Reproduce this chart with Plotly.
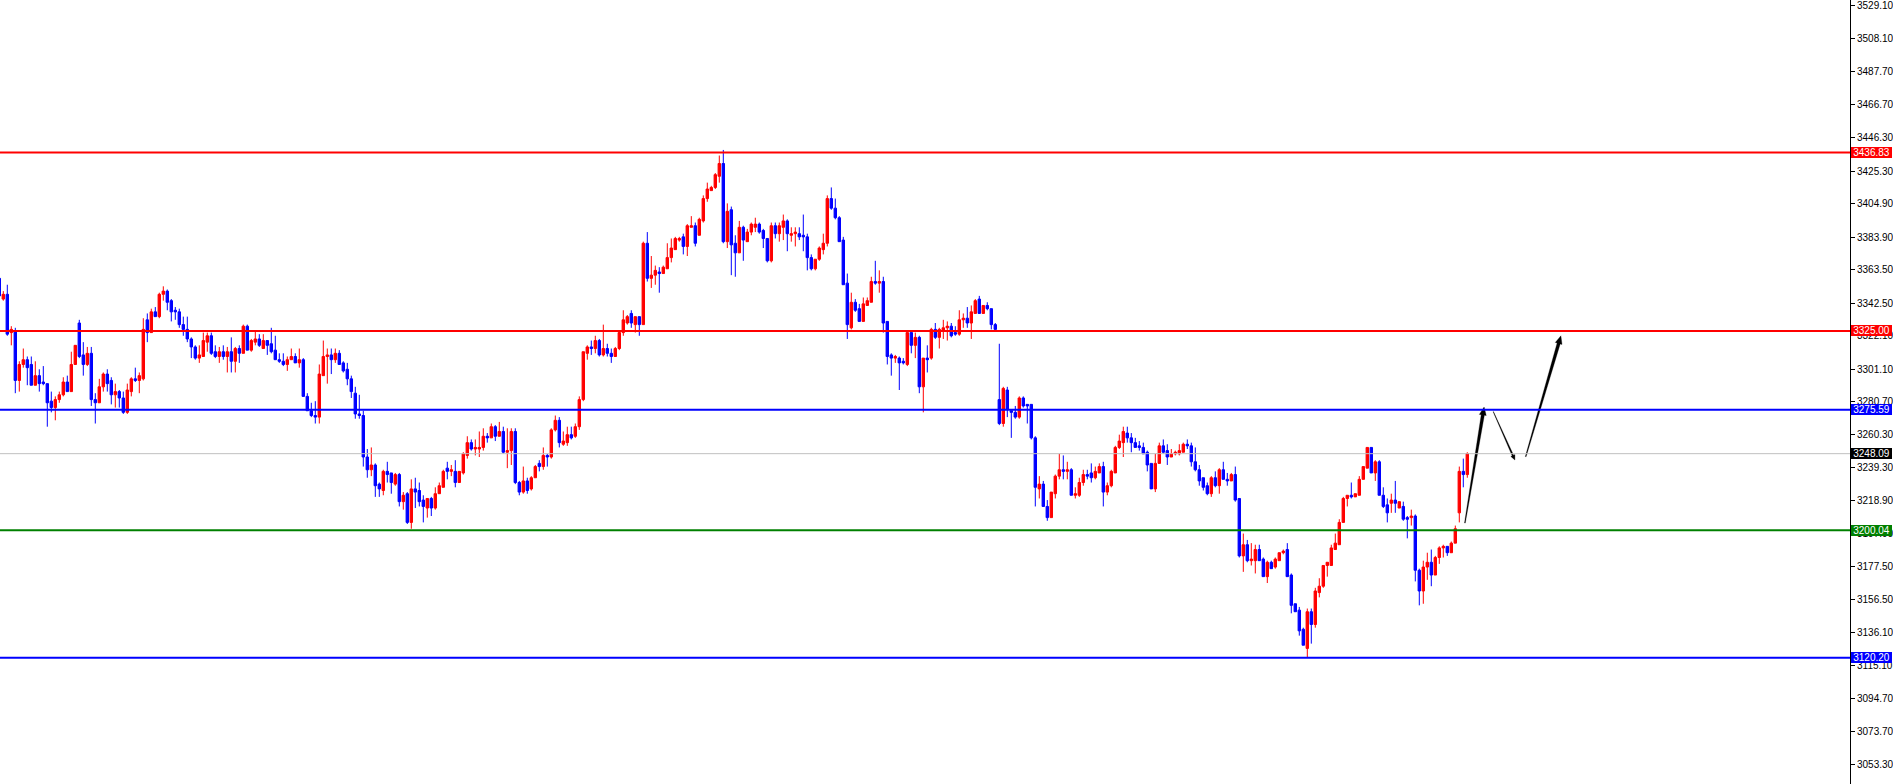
import plotly.graph_objects as go

# ---------------- data (bar index, OHLC prices) ----------------
bar_index = list(range(-1, 367))

opens = [3358,
    3345,3348,3324,3325,3294,3304,3307,3304,3291,3297,
    3293,3292,3281,3277,3282,3285,3293,3287,3304,3330,
    3310,3304,3311,3282,3280,3290,3298,3294,3285,3287,
    3283,3274,3287,3295,3294,3295,3332,3324,3337,3334,
    3348,3350,3344,3338,3337,3329,3326,3320,3315,3308,
    3309,3318,3322,3312,3309,3312,3309,3312,3306,3314,
    3311,3328,3313,3318,3320,3314,3319,3317,3313,3307,
    3306,3304,3307,3309,3305,3307,3284,3275,3272,3271,
    3297,3309,3310,3307,3311,3305,3301,3295,3286,3273,
    3272,3246,3238,3241,3229,3225,3237,3236,3229,3235,
    3218,3223,3205,3226,3225,3219,3214,3220,3214,3223,
    3227,3239,3237,3237,3230,3236,3247,3255,3251,3251,
    3252,3259,3258,3265,3259,3262,3249,3250,3262,3230,
    3224,3231,3226,3233,3242,3240,3247,3246,3263,3269,
    3254,3255,3260,3259,3265,3282,3311,3315,3314,3319,
    3310,3314,3311,3309,3314,3324,3330,3336,3329,3334,
    3329,3380,3358,3360,3362,3361,3364,3371,3376,3382,
    3384,3378,3390,3391,3385,3394,3408,3413,3415,3422,
    3430,3381,3401,3380,3374,3390,3381,3387,3390,3392,
    3388,3383,3369,3391,3386,3390,3394,3385,3386,3386,
    3385,3384,3371,3364,3370,3376,3380,3408,3402,3396,
    3382,3355,3327,3343,3339,3331,3341,3343,3356,3355,
    3356,3331,3310,3308,3308,3306,3304,3324,3316,3321,
    3290,3308,3308,3326,3321,3325,3327,3328,3324,3323,
    3332,3333,3330,3336,3345,3336,3341,3339,3329,3282,
    3267,3288,3275,3274,3271,3283,3279,3279,3258,3226,
    3229,3215,3208,3223,3234,3238,3237,3238,3222,3222,
    3230,3235,3236,3233,3236,3240,3224,3228,3236,3252,
    3255,3261,3258,3255,3253,3252,3249,3242,3226,3242,
    3253,3250,3246,3248,3248,3249,3254,3253,3243,3238,
    3233,3228,3223,3233,3228,3238,3232,3231,3235,3220,
    3184,3191,3181,3181,3188,3182,3171,3180,3177,3181,
    3186,3188,3172,3154,3150,3138,3126,3149,3141,3161,
    3165,3178,3178,3188,3191,3205,3220,3222,3221,3222,
    3232,3239,3252,3236,3243,3222,3216,3217,3219,3214,
    3215,3208,3208,3209,3175,3162,3177,3180,3172,3183,
    3189,3190,3186,3192,3211,3237,3235]

highs = [3358,
    3350,3354,3328,3327,3306,3314,3309,3309,3306,3301,
    3303,3292,3287,3284,3287,3296,3297,3312,3316,3332,
    3318,3315,3315,3286,3295,3299,3301,3296,3292,3288,
    3287,3292,3296,3302,3299,3333,3336,3339,3340,3349,
    3353,3351,3345,3340,3339,3334,3334,3321,3316,3316,
    3324,3324,3324,3316,3315,3316,3315,3321,3315,3316,
    3329,3329,3320,3325,3323,3323,3319,3327,3322,3311,
    3311,3309,3314,3311,3314,3308,3286,3280,3281,3304,
    3319,3314,3314,3314,3313,3306,3305,3297,3290,3285,
    3275,3251,3252,3242,3230,3238,3243,3236,3236,3236,
    3224,3224,3232,3233,3230,3222,3220,3221,3227,3230,
    3238,3243,3241,3244,3237,3249,3259,3257,3257,3262,
    3264,3261,3267,3266,3268,3265,3264,3264,3264,3231,
    3240,3233,3234,3241,3244,3252,3248,3264,3272,3271,
    3262,3265,3265,3267,3284,3312,3316,3319,3322,3320,
    3329,3317,3314,3315,3325,3338,3335,3338,3334,3334,
    3381,3387,3372,3366,3365,3366,3380,3383,3384,3384,
    3386,3392,3397,3393,3396,3410,3418,3416,3424,3435,
    3438.5,3405,3403,3385,3394,3391,3389,3393,3396,3393,
    3389,3383,3393,3393,3393,3398,3395,3390,3390,3390,
    3398,3386,3373,3370,3378,3386,3410,3415,3408,3397,
    3384,3361,3349,3345,3342,3346,3346,3359,3369,3363,
    3359,3331,3311,3310,3309,3308,3324,3324,3324,3322,
    3308,3316,3327,3330,3327,3332,3331,3330,3328,3338,
    3336,3340,3341,3345,3347,3341,3343,3339,3330,3317,
    3290,3290,3275,3278,3284,3284,3279,3279,3259,3234,
    3231,3219,3224,3235,3248,3247,3243,3239,3227,3233,
    3238,3238,3242,3240,3242,3243,3230,3238,3253,3260,
    3265,3265,3261,3258,3256,3255,3250,3242,3248,3255,
    3257,3254,3251,3250,3254,3255,3257,3255,3252,3241,
    3233,3230,3234,3237,3239,3243,3236,3236,3240,3220,
    3198,3194,3192,3191,3191,3183,3181,3181,3183,3186,
    3188,3192,3173,3154,3152,3139,3151,3151,3164,3170,
    3178,3180,3191,3198,3207,3221,3222,3230,3223,3234,
    3240,3252,3252,3244,3244,3227,3220,3223,3231,3218,
    3218,3209,3213,3210,3176,3181,3186,3188,3184,3190,
    3191,3190,3193,3203,3240,3245,3249]

lows = [3345,
    3344,3322,3316,3286,3287,3302,3291,3291,3291,3287,
    3291,3265,3274,3269,3280,3284,3287,3287,3304,3308,
    3297,3303,3278,3267,3280,3287,3287,3279,3277,3277,
    3273,3273,3284,3293,3286,3294,3318,3324,3334,3333,
    3344,3338,3331,3332,3327,3322,3318,3308,3307,3305,
    3309,3312,3310,3308,3305,3307,3299,3299,3299,3305,
    3311,3313,3312,3316,3315,3314,3310,3311,3307,3305,
    3303,3300,3307,3305,3302,3284,3275,3271,3267,3267,
    3297,3292,3298,3305,3304,3299,3291,3283,3270,3270,
    3240,3233,3234,3221,3221,3222,3230,3223,3228,3215,
    3213,3204,3201,3214,3215,3205,3208,3209,3213,3223,
    3227,3232,3234,3227,3230,3235,3245,3250,3247,3246,
    3250,3255,3258,3256,3259,3248,3239,3241,3229,3222,
    3223,3223,3225,3233,3237,3238,3240,3245,3262,3252,
    3253,3253,3257,3258,3263,3281,3307,3310,3311,3309,
    3309,3309,3305,3309,3313,3322,3329,3327,3324,3322,
    3329,3356,3352,3354,3349,3361,3364,3368,3376,3381,
    3373,3372,3390,3378,3385,3393,3406,3413,3414,3418,
    3380,3377,3360,3359,3374,3369,3381,3385,3387,3386,
    3377,3368,3368,3383,3381,3382,3375,3381,3378,3382,
    3375,3363,3363,3363,3369,3373,3378,3401,3395,3381,
    3354,3320,3326,3337,3331,3331,3341,3343,3354,3349,
    3324,3304,3297,3305,3288,3304,3303,3311,3308,3286,
    3274,3299,3307,3320,3314,3320,3319,3321,3322,3322,
    3327,3327,3320,3336,3336,3336,3338,3326,3326,3266,
    3265,3271,3258,3270,3270,3277,3267,3257,3215,3220,
    3215,3206,3208,3220,3232,3232,3232,3222,3220,3221,
    3228,3232,3230,3232,3236,3215,3222,3227,3236,3251,
    3246,3255,3249,3252,3250,3248,3237,3226,3224,3242,
    3248,3241,3246,3247,3247,3249,3251,3240,3237,3228,
    3225,3222,3221,3227,3223,3232,3228,3231,3218,3183,
    3174,3180,3178,3173,3181,3171,3167,3176,3176,3181,
    3185,3171,3148,3149,3134,3128,3120.2,3129,3139,3158,
    3164,3171,3178,3188,3191,3205,3215,3220,3221,3222,
    3232,3239,3236,3231,3222,3214,3205,3211,3211,3214,
    3206,3195,3203,3168,3153,3154,3169,3165,3172,3179,
    3183,3184,3186,3192,3205,3227,3233]

closes = [3347,
    3348,3323,3326,3294,3304,3307,3302,3291,3297,3292,
    3292,3280,3277,3282,3285,3293,3287,3304,3316,3309,
    3304,3311,3282,3280,3290,3298,3292,3285,3287,3283,
    3274,3288,3295,3294,3297,3326,3324,3337,3334,3348,
    3350,3343,3337,3337,3329,3326,3320,3315,3308,3310,
    3319,3322,3311,3309,3312,3309,3312,3306,3314,3311,
    3328,3313,3319,3320,3316,3319,3316,3312,3307,3306,
    3304,3307,3309,3305,3307,3284,3275,3272,3271,3298,
    3309,3310,3307,3311,3304,3300,3295,3287,3273,3272,
    3246,3238,3241,3228,3226,3237,3235,3230,3235,3218,
    3222,3205,3226,3224,3218,3215,3220,3214,3223,3228,
    3237,3237,3238,3230,3237,3248,3255,3251,3252,3252,
    3259,3258,3265,3259,3262,3249,3250,3262,3230,3224,
    3231,3225,3233,3240,3240,3247,3246,3263,3269,3255,
    3256,3260,3258,3265,3282,3312,3315,3314,3319,3310,
    3314,3311,3309,3314,3324,3332,3334,3330,3334,3329,
    3380,3358,3360,3363,3361,3365,3371,3377,3383,3383,
    3378,3391,3391,3380,3395,3408,3414,3415,3423,3430,
    3381,3400,3379,3374,3390,3382,3387,3392,3392,3387,
    3383,3369,3391,3386,3391,3394,3386,3386,3387,3384,
    3384,3371,3364,3370,3377,3380,3408,3402,3396,3381,
    3354,3329,3343,3338,3331,3342,3344,3356,3355,3356,
    3330,3309,3308,3309,3305,3305,3324,3316,3321,3290,
    3308,3307,3326,3321,3326,3327,3328,3322,3323,3332,
    3333,3330,3337,3344,3336,3341,3339,3329,3326,3267,
    3289,3276,3274,3271,3283,3278,3278,3258,3227,3229,
    3215,3208,3224,3234,3238,3237,3238,3222,3223,3230,
    3235,3234,3233,3237,3240,3224,3228,3237,3252,3256,
    3262,3258,3255,3252,3252,3248,3241,3226,3242,3253,
    3249,3246,3248,3249,3250,3254,3253,3243,3238,3231,
    3227,3223,3233,3228,3238,3232,3231,3235,3219,3184,
    3191,3181,3182,3188,3181,3171,3180,3176,3182,3186,
    3187,3171,3153,3149,3137,3128,3149,3141,3162,3165,
    3178,3180,3189,3192,3205,3220,3222,3221,3223,3232,
    3240,3252,3236,3243,3222,3215,3211,3219,3217,3218,
    3207,3207,3209,3175,3162,3177,3180,3172,3183,3189,
    3190,3186,3192,3201,3237,3235,3248.09]

# horizontal levels
level_values = [3436.83, 3325.00, 3275.59, 3248.09, 3200.04, 3120.20]

# price-axis tick labels
tick_values = [3529.10, 3508.10, 3487.70, 3466.70, 3446.30, 3425.30, 3404.90,
               3383.90, 3363.50, 3342.50, 3322.10, 3301.10, 3280.70, 3260.30,
               3239.30, 3218.90, 3197.90, 3177.50, 3156.50, 3136.10, 3115.10,
               3094.70, 3073.70, 3053.30]

# forecast arrows: (bar index, price) of tail and tip
arrow_x0 = [365.4, 372.5, 380.6]
arrow_y0 = [3204.6, 3274.4, 3246.2]
arrow_x1 = [370.2, 377.9, 389.4]
arrow_y1 = [3277.3, 3244.1, 3322.0]

# ---------------- styles ----------------
level_line_colors = ['#FF0000', '#FF0000', '#0000FF', '#C0C0C0', '#008000', '#0000FF']
level_label_bg = ['#FF0000', '#FF0000', '#0000FF', '#000000', '#008000', '#0000FF']
level_widths = [2, 2, 2, 1, 2, 2]
# tail width, neck width, head width, head length (pixels)
arrow_styles = [(0.8, 3.2, 7.0, 8.0), (0.4, 1.6, 4.5, 5.0), (0.8, 3.2, 7.0, 8.0)]

W, H = 1893, 784
MR = 43
PW, PH = W - MR, H
XR = [-0.825, -0.825 + PW / 4.0]
YR = [3041.0, 3532.5]
FONT = 'Liberation Sans, Arial, sans-serif'

fig = go.Figure()

fig.add_trace(go.Candlestick(
    x=bar_index, open=opens, high=highs, low=lows, close=closes,
    increasing=dict(line=dict(color='#FF0000', width=1), fillcolor='#FF0000'),
    decreasing=dict(line=dict(color='#0000FF', width=1), fillcolor='#0000FF'),
    whiskerwidth=0, showlegend=False, hoverinfo='skip'))

sx = PW / (XR[1] - XR[0])
sy = PH / (YR[1] - YR[0])


def arrow_polygon(x0, y0, x1, y1, wt, wn, hw, hl):
    ax, ay = (x0 - XR[0]) * sx, (YR[1] - y0) * sy
    bx, by = (x1 - XR[0]) * sx, (YR[1] - y1) * sy
    dx, dy = bx - ax, by - ay
    L = (dx * dx + dy * dy) ** 0.5
    ux, uy = dx / L, dy / L
    nx, ny = -uy, ux
    cx, cy = bx - ux * hl, by - uy * hl
    pts = [(ax + nx * wt / 2, ay + ny * wt / 2),
           (cx + nx * wn / 2, cy + ny * wn / 2),
           (cx + nx * hw / 2, cy + ny * hw / 2),
           (bx, by),
           (cx - nx * hw / 2, cy - ny * hw / 2),
           (cx - nx * wn / 2, cy - ny * wn / 2),
           (ax - nx * wt / 2, ay - ny * wt / 2)]
    xs = [p[0] / sx + XR[0] for p in pts]
    ys = [YR[1] - p[1] / sy for p in pts]
    return xs + [xs[0]], ys + [ys[0]]


for i in range(len(arrow_x0)):
    xs, ys = arrow_polygon(arrow_x0[i], arrow_y0[i], arrow_x1[i], arrow_y1[i], *arrow_styles[i])
    fig.add_trace(go.Scatter(x=xs, y=ys, mode='lines', fill='toself', fillcolor='#000000',
                             line=dict(color='#000000', width=0.3), showlegend=False,
                             hoverinfo='skip'))

for v, lc, lw in zip(level_values, level_line_colors, level_widths):
    fig.add_shape(type='line', xref='paper', x0=0, x1=1, yref='y', y0=v, y1=v,
                  line=dict(color=lc, width=lw), layer='above')

for v, bg in zip(level_values, level_label_bg):
    fig.add_annotation(xref='paper', x=1, xanchor='left', xshift=1,
                       yref='y', y=v, yanchor='middle',
                       text=f'{v:.2f}', showarrow=False, bgcolor=bg,
                       font=dict(color='white', size=10, family=FONT),
                       borderpad=1, borderwidth=0, width=39, height=9)

fig.update_layout(
    width=W, height=H,
    margin=dict(l=0, r=MR, t=0, b=0, pad=0),
    paper_bgcolor='white', plot_bgcolor='white',
    boxgap=0.4, boxgroupgap=0,
    showlegend=False,
    xaxis=dict(range=XR, visible=False, showgrid=False, zeroline=False,
               rangeslider=dict(visible=False), fixedrange=True),
    yaxis=dict(range=YR, side='right', tickvals=tick_values,
               ticktext=[f'{v:.2f}' for v in tick_values],
               ticks='outside', ticklen=4, tickcolor='black', tickwidth=1,
               ticklabeloverflow='allow',
               showline=True, linecolor='black', linewidth=1,
               showgrid=False, zeroline=False, automargin=False, fixedrange=True,
               tickfont=dict(family=FONT, size=10, color='black')),
)

fig.write_html("out.html",
               config={'displayModeBar': False},
               post_script="document.body.style.margin='0';document.body.style.overflow='hidden';")
